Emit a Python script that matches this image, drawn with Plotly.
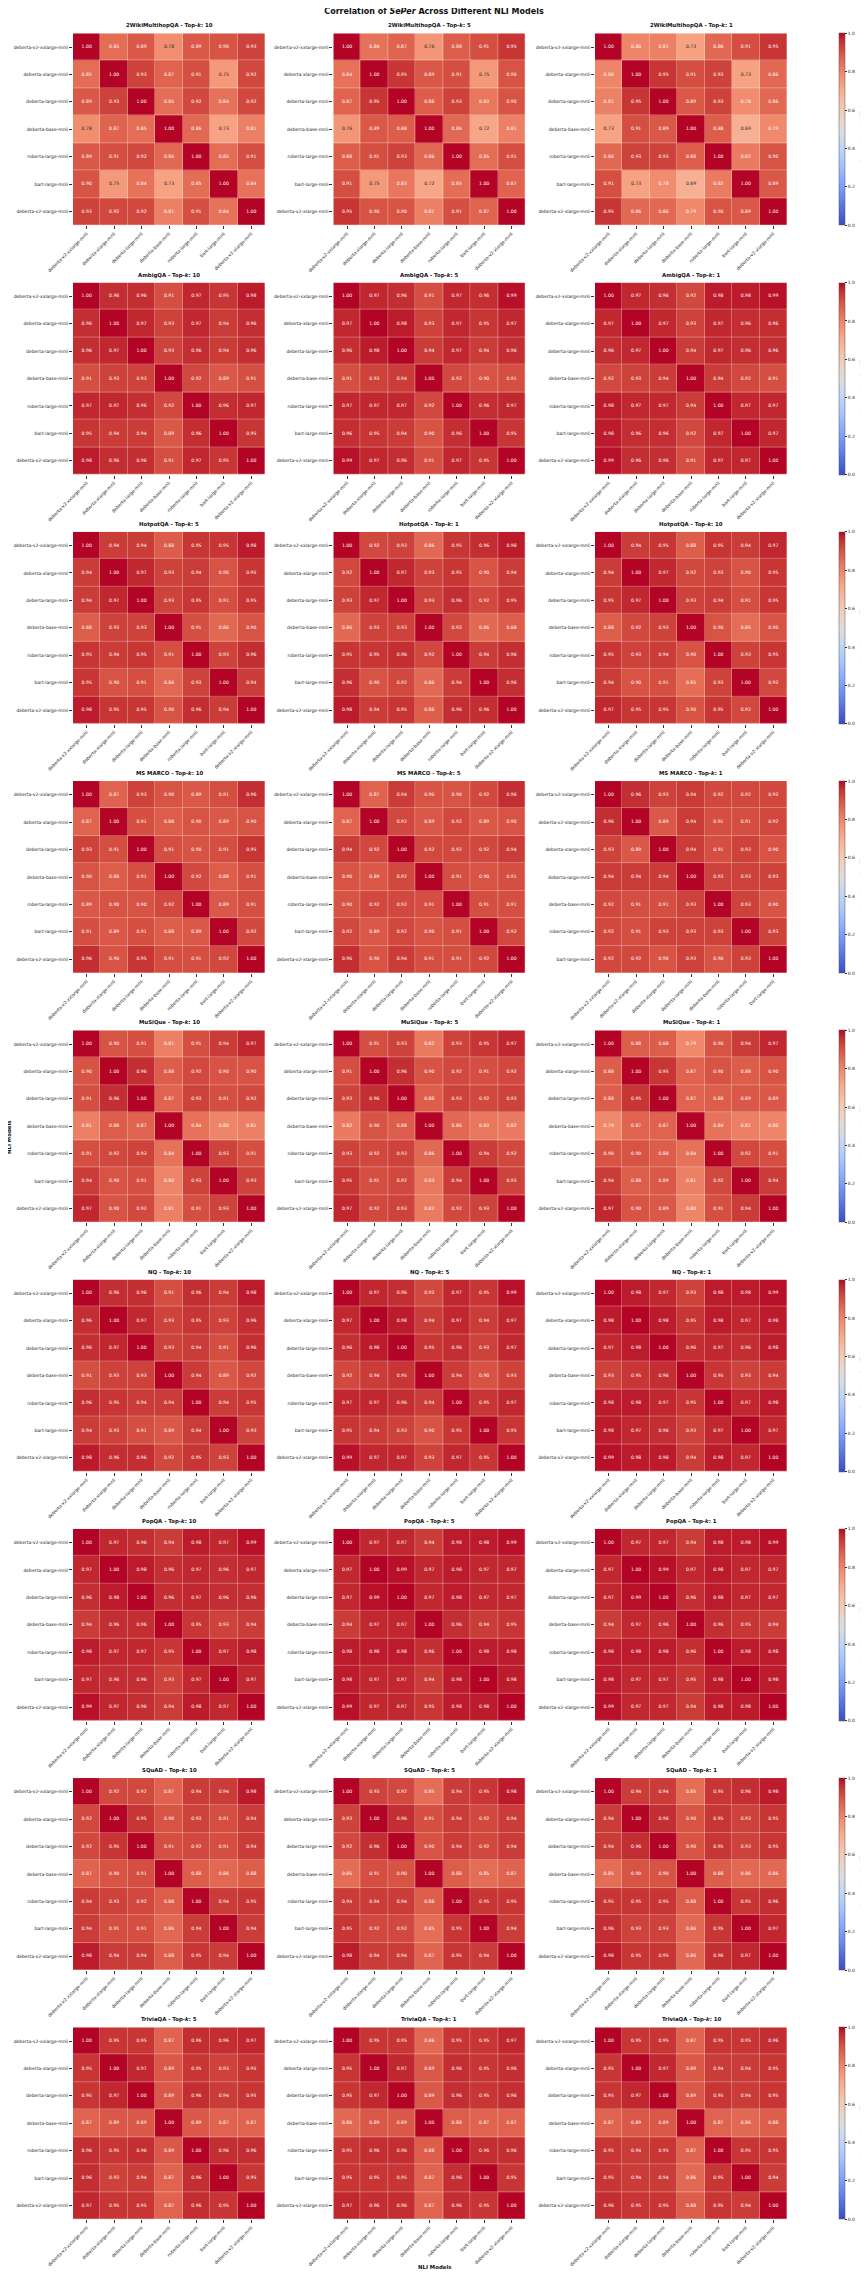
import plotly.graph_objects as go

W, H = 868, 2276

MODELS = ["deberta-v2-xxlarge-mnli", "deberta-xlarge-mnli", "deberta-large-mnli",
          "deberta-base-mnli", "roberta-large-mnli", "bart-large-mnli", "deberta-v2-xlarge-mnli"]
MODELS_MSMARCO_K1 = ["deberta-v2-xxlarge-mnli", "deberta-v2-xlarge-mnli", "deberta-xlarge-mnli",
                     "deberta-large-mnli", "deberta-base-mnli", "roberta-large-mnli", "bart-large-mnli"]

DATASETS = ["2WikiMultihopQA", "AmbigQA", "HotpotQA", "MS MARCO", "MuSiQue", "NQ", "PopQA", "SQuAD", "TriviaQA"]
TOPK = [[10, 5, 1], [10, 5, 1], [5, 1, 10], [10, 5, 1], [10, 5, 1], [10, 5, 1], [10, 5, 1], [10, 5, 1], [5, 1, 10]]

wiki_10 = [[1.00, 0.85, 0.89, 0.78, 0.89, 0.90, 0.93],
           [0.85, 1.00, 0.93, 0.87, 0.91, 0.75, 0.92],
           [0.89, 0.93, 1.00, 0.85, 0.92, 0.84, 0.92],
           [0.78, 0.87, 0.85, 1.00, 0.86, 0.73, 0.81],
           [0.89, 0.91, 0.92, 0.86, 1.00, 0.85, 0.91],
           [0.90, 0.75, 0.84, 0.73, 0.85, 1.00, 0.84],
           [0.93, 0.92, 0.92, 0.81, 0.91, 0.84, 1.00]]
wiki_5 = [[1.00, 0.84, 0.87, 0.76, 0.88, 0.91, 0.95],
          [0.84, 1.00, 0.95, 0.89, 0.91, 0.75, 0.90],
          [0.87, 0.95, 1.00, 0.88, 0.93, 0.83, 0.90],
          [0.76, 0.89, 0.88, 1.00, 0.86, 0.72, 0.81],
          [0.88, 0.91, 0.93, 0.86, 1.00, 0.85, 0.91],
          [0.91, 0.75, 0.83, 0.72, 0.85, 1.00, 0.87],
          [0.95, 0.90, 0.90, 0.81, 0.91, 0.87, 1.00]]
wiki_1 = [[1.00, 0.80, 0.81, 0.73, 0.86, 0.91, 0.95],
          [0.80, 1.00, 0.95, 0.91, 0.93, 0.73, 0.86],
          [0.81, 0.95, 1.00, 0.89, 0.93, 0.784, 0.86],
          [0.73, 0.91, 0.89, 1.00, 0.88, 0.69, 0.79],
          [0.86, 0.93, 0.93, 0.88, 1.00, 0.82, 0.90],
          [0.91, 0.73, 0.784, 0.69, 0.82, 1.00, 0.89],
          [0.95, 0.86, 0.86, 0.79, 0.90, 0.89, 1.00]]

ambig_10 = [[1.00, 0.96, 0.96, 0.91, 0.97, 0.95, 0.98],
            [0.96, 1.00, 0.97, 0.93, 0.97, 0.94, 0.96],
            [0.96, 0.97, 1.00, 0.93, 0.96, 0.94, 0.96],
            [0.91, 0.93, 0.93, 1.00, 0.92, 0.89, 0.91],
            [0.97, 0.97, 0.96, 0.92, 1.00, 0.96, 0.97],
            [0.95, 0.94, 0.94, 0.89, 0.96, 1.00, 0.95],
            [0.98, 0.96, 0.96, 0.91, 0.97, 0.95, 1.00]]
ambig_5 = [[1.00, 0.97, 0.96, 0.91, 0.97, 0.96, 0.99],
           [0.97, 1.00, 0.98, 0.93, 0.97, 0.95, 0.97],
           [0.96, 0.98, 1.00, 0.94, 0.97, 0.94, 0.96],
           [0.91, 0.93, 0.94, 1.00, 0.92, 0.90, 0.91],
           [0.97, 0.97, 0.97, 0.92, 1.00, 0.96, 0.97],
           [0.96, 0.95, 0.94, 0.90, 0.96, 1.00, 0.95],
           [0.99, 0.97, 0.96, 0.91, 0.97, 0.95, 1.00]]
ambig_1 = [[1.00, 0.97, 0.96, 0.92, 0.98, 0.98, 0.99],
           [0.97, 1.00, 0.97, 0.93, 0.97, 0.96, 0.96],
           [0.96, 0.97, 1.00, 0.94, 0.97, 0.96, 0.96],
           [0.92, 0.93, 0.94, 1.00, 0.94, 0.92, 0.91],
           [0.98, 0.97, 0.97, 0.94, 1.00, 0.97, 0.97],
           [0.98, 0.96, 0.96, 0.92, 0.97, 1.00, 0.97],
           [0.99, 0.96, 0.96, 0.91, 0.97, 0.97, 1.00]]

hotpot_5 = [[1.00, 0.94, 0.94, 0.88, 0.95, 0.95, 0.98],
            [0.94, 1.00, 0.97, 0.93, 0.94, 0.90, 0.95],
            [0.94, 0.97, 1.00, 0.93, 0.95, 0.91, 0.95],
            [0.88, 0.93, 0.93, 1.00, 0.91, 0.86, 0.90],
            [0.95, 0.94, 0.95, 0.91, 1.00, 0.93, 0.96],
            [0.95, 0.90, 0.91, 0.86, 0.93, 1.00, 0.94],
            [0.98, 0.95, 0.95, 0.90, 0.96, 0.94, 1.00]]
hotpot_1 = [[1.00, 0.92, 0.93, 0.86, 0.95, 0.96, 0.98],
            [0.92, 1.00, 0.97, 0.93, 0.95, 0.90, 0.94],
            [0.93, 0.97, 1.00, 0.93, 0.96, 0.92, 0.95],
            [0.86, 0.93, 0.93, 1.00, 0.92, 0.86, 0.88],
            [0.95, 0.95, 0.96, 0.92, 1.00, 0.94, 0.96],
            [0.96, 0.90, 0.92, 0.86, 0.94, 1.00, 0.96],
            [0.98, 0.94, 0.95, 0.88, 0.96, 0.96, 1.00]]
hotpot_10 = [[1.00, 0.94, 0.95, 0.88, 0.95, 0.94, 0.97],
             [0.94, 1.00, 0.97, 0.92, 0.93, 0.90, 0.95],
             [0.95, 0.97, 1.00, 0.93, 0.94, 0.91, 0.95],
             [0.88, 0.92, 0.93, 1.00, 0.90, 0.85, 0.90],
             [0.95, 0.93, 0.94, 0.90, 1.00, 0.93, 0.95],
             [0.94, 0.90, 0.91, 0.85, 0.93, 1.00, 0.92],
             [0.97, 0.95, 0.95, 0.90, 0.95, 0.92, 1.00]]

msmarco_10 = [[1.00, 0.87, 0.93, 0.90, 0.89, 0.91, 0.96],
              [0.87, 1.00, 0.91, 0.88, 0.90, 0.89, 0.90],
              [0.93, 0.91, 1.00, 0.91, 0.90, 0.91, 0.95],
              [0.90, 0.88, 0.91, 1.00, 0.92, 0.88, 0.91],
              [0.89, 0.90, 0.90, 0.92, 1.00, 0.89, 0.91],
              [0.91, 0.89, 0.91, 0.88, 0.89, 1.00, 0.92],
              [0.96, 0.90, 0.95, 0.91, 0.91, 0.92, 1.00]]
msmarco_5 = [[1.00, 0.87, 0.94, 0.90, 0.90, 0.92, 0.96],
             [0.87, 1.00, 0.92, 0.89, 0.92, 0.89, 0.90],
             [0.94, 0.92, 1.00, 0.92, 0.92, 0.92, 0.94],
             [0.90, 0.89, 0.92, 1.00, 0.91, 0.90, 0.91],
             [0.90, 0.92, 0.92, 0.91, 1.00, 0.91, 0.91],
             [0.92, 0.89, 0.92, 0.90, 0.91, 1.00, 0.92],
             [0.96, 0.90, 0.94, 0.91, 0.91, 0.92, 1.00]]
msmarco_1 = [[1.00, 0.96, 0.93, 0.94, 0.92, 0.92, 0.92],
             [0.96, 1.00, 0.89, 0.94, 0.91, 0.91, 0.92],
             [0.93, 0.89, 1.00, 0.94, 0.91, 0.93, 0.90],
             [0.94, 0.94, 0.94, 1.00, 0.93, 0.93, 0.93],
             [0.92, 0.91, 0.91, 0.93, 1.00, 0.93, 0.90],
             [0.92, 0.91, 0.93, 0.93, 0.93, 1.00, 0.93],
             [0.92, 0.92, 0.90, 0.93, 0.90, 0.93, 1.00]]

musique_10 = [[1.00, 0.90, 0.91, 0.81, 0.91, 0.94, 0.97],
              [0.90, 1.00, 0.96, 0.88, 0.92, 0.90, 0.90],
              [0.91, 0.96, 1.00, 0.87, 0.93, 0.91, 0.92],
              [0.81, 0.88, 0.87, 1.00, 0.84, 0.80, 0.81],
              [0.91, 0.92, 0.93, 0.84, 1.00, 0.93, 0.91],
              [0.94, 0.90, 0.91, 0.80, 0.93, 1.00, 0.93],
              [0.97, 0.90, 0.92, 0.81, 0.91, 0.93, 1.00]]
musique_5 = [[1.00, 0.91, 0.93, 0.82, 0.93, 0.95, 0.97],
             [0.91, 1.00, 0.96, 0.90, 0.92, 0.91, 0.92],
             [0.93, 0.96, 1.00, 0.88, 0.93, 0.92, 0.93],
             [0.82, 0.90, 0.88, 1.00, 0.86, 0.83, 0.82],
             [0.93, 0.92, 0.93, 0.86, 1.00, 0.94, 0.92],
             [0.95, 0.91, 0.92, 0.83, 0.94, 1.00, 0.93],
             [0.97, 0.92, 0.93, 0.82, 0.92, 0.93, 1.00]]
musique_1 = [[1.00, 0.88, 0.88, 0.79, 0.90, 0.94, 0.97],
             [0.88, 1.00, 0.95, 0.87, 0.90, 0.88, 0.90],
             [0.88, 0.95, 1.00, 0.87, 0.88, 0.89, 0.89],
             [0.79, 0.87, 0.87, 1.00, 0.84, 0.81, 0.80],
             [0.90, 0.90, 0.88, 0.84, 1.00, 0.92, 0.91],
             [0.94, 0.88, 0.89, 0.81, 0.92, 1.00, 0.94],
             [0.97, 0.90, 0.89, 0.80, 0.91, 0.94, 1.00]]

nq_10 = [[1.00, 0.96, 0.96, 0.91, 0.96, 0.94, 0.98],
         [0.96, 1.00, 0.97, 0.93, 0.95, 0.93, 0.96],
         [0.96, 0.97, 1.00, 0.93, 0.94, 0.91, 0.96],
         [0.91, 0.93, 0.93, 1.00, 0.94, 0.89, 0.92],
         [0.96, 0.95, 0.94, 0.94, 1.00, 0.94, 0.95],
         [0.94, 0.93, 0.91, 0.89, 0.94, 1.00, 0.93],
         [0.98, 0.96, 0.96, 0.92, 0.95, 0.93, 1.00]]
nq_5 = [[1.00, 0.97, 0.96, 0.92, 0.97, 0.95, 0.99],
        [0.97, 1.00, 0.98, 0.94, 0.97, 0.94, 0.97],
        [0.96, 0.98, 1.00, 0.95, 0.96, 0.93, 0.97],
        [0.92, 0.94, 0.95, 1.00, 0.94, 0.90, 0.93],
        [0.97, 0.97, 0.96, 0.94, 1.00, 0.95, 0.97],
        [0.95, 0.94, 0.93, 0.90, 0.95, 1.00, 0.95],
        [0.99, 0.97, 0.97, 0.93, 0.97, 0.95, 1.00]]
nq_1 = [[1.00, 0.98, 0.97, 0.93, 0.98, 0.98, 0.99],
        [0.98, 1.00, 0.98, 0.95, 0.98, 0.97, 0.98],
        [0.97, 0.98, 1.00, 0.96, 0.97, 0.96, 0.98],
        [0.93, 0.95, 0.96, 1.00, 0.95, 0.93, 0.94],
        [0.98, 0.98, 0.97, 0.95, 1.00, 0.97, 0.98],
        [0.98, 0.97, 0.96, 0.93, 0.97, 1.00, 0.97],
        [0.99, 0.98, 0.98, 0.94, 0.98, 0.97, 1.00]]

popqa_10 = [[1.00, 0.97, 0.96, 0.94, 0.98, 0.97, 0.99],
            [0.97, 1.00, 0.98, 0.96, 0.97, 0.96, 0.97],
            [0.96, 0.98, 1.00, 0.96, 0.97, 0.96, 0.96],
            [0.94, 0.96, 0.96, 1.00, 0.95, 0.93, 0.94],
            [0.98, 0.97, 0.97, 0.95, 1.00, 0.97, 0.98],
            [0.97, 0.96, 0.96, 0.93, 0.97, 1.00, 0.97],
            [0.99, 0.97, 0.96, 0.94, 0.98, 0.97, 1.00]]
popqa_5 = [[1.00, 0.97, 0.97, 0.94, 0.98, 0.98, 0.99],
           [0.97, 1.00, 0.99, 0.97, 0.98, 0.97, 0.97],
           [0.97, 0.99, 1.00, 0.97, 0.98, 0.97, 0.97],
           [0.94, 0.97, 0.97, 1.00, 0.96, 0.94, 0.95],
           [0.98, 0.98, 0.98, 0.96, 1.00, 0.98, 0.98],
           [0.98, 0.97, 0.97, 0.94, 0.98, 1.00, 0.98],
           [0.99, 0.97, 0.97, 0.95, 0.98, 0.98, 1.00]]
popqa_1 = [[1.00, 0.97, 0.97, 0.94, 0.98, 0.98, 0.99],
           [0.97, 1.00, 0.99, 0.97, 0.98, 0.97, 0.97],
           [0.97, 0.99, 1.00, 0.96, 0.98, 0.97, 0.97],
           [0.94, 0.97, 0.96, 1.00, 0.96, 0.95, 0.94],
           [0.98, 0.98, 0.98, 0.96, 1.00, 0.98, 0.98],
           [0.98, 0.97, 0.97, 0.95, 0.98, 1.00, 0.98],
           [0.99, 0.97, 0.97, 0.94, 0.98, 0.98, 1.00]]

squad_10 = [[1.00, 0.92, 0.92, 0.87, 0.94, 0.94, 0.98],
            [0.92, 1.00, 0.95, 0.90, 0.93, 0.91, 0.94],
            [0.92, 0.95, 1.00, 0.91, 0.92, 0.91, 0.94],
            [0.87, 0.90, 0.91, 1.00, 0.88, 0.86, 0.88],
            [0.94, 0.93, 0.92, 0.88, 1.00, 0.94, 0.95],
            [0.94, 0.91, 0.91, 0.86, 0.94, 1.00, 0.94],
            [0.98, 0.94, 0.94, 0.88, 0.95, 0.94, 1.00]]
squad_5 = [[1.00, 0.93, 0.92, 0.85, 0.94, 0.95, 0.98],
           [0.93, 1.00, 0.96, 0.91, 0.94, 0.92, 0.94],
           [0.92, 0.96, 1.00, 0.90, 0.94, 0.92, 0.94],
           [0.85, 0.91, 0.90, 1.00, 0.88, 0.85, 0.87],
           [0.94, 0.94, 0.94, 0.88, 1.00, 0.95, 0.95],
           [0.95, 0.92, 0.92, 0.85, 0.95, 1.00, 0.94],
           [0.98, 0.94, 0.94, 0.87, 0.95, 0.94, 1.00]]
squad_1 = [[1.00, 0.94, 0.94, 0.85, 0.95, 0.96, 0.98],
           [0.94, 1.00, 0.96, 0.90, 0.95, 0.93, 0.95],
           [0.94, 0.96, 1.00, 0.90, 0.95, 0.93, 0.95],
           [0.85, 0.90, 0.90, 1.00, 0.88, 0.86, 0.86],
           [0.95, 0.95, 0.95, 0.88, 1.00, 0.95, 0.96],
           [0.96, 0.93, 0.93, 0.86, 0.95, 1.00, 0.97],
           [0.98, 0.95, 0.95, 0.86, 0.96, 0.97, 1.00]]

trivia_5 = [[1.00, 0.95, 0.95, 0.87, 0.96, 0.96, 0.97],
            [0.95, 1.00, 0.97, 0.89, 0.95, 0.93, 0.95],
            [0.95, 0.97, 1.00, 0.89, 0.96, 0.94, 0.95],
            [0.87, 0.89, 0.89, 1.00, 0.89, 0.87, 0.87],
            [0.96, 0.95, 0.96, 0.89, 1.00, 0.96, 0.96],
            [0.96, 0.93, 0.94, 0.87, 0.96, 1.00, 0.95],
            [0.97, 0.95, 0.95, 0.87, 0.96, 0.95, 1.00]]
trivia_1 = [[1.00, 0.95, 0.95, 0.86, 0.95, 0.95, 0.97],
            [0.95, 1.00, 0.97, 0.89, 0.96, 0.95, 0.96],
            [0.95, 0.97, 1.00, 0.89, 0.96, 0.95, 0.96],
            [0.86, 0.89, 0.89, 1.00, 0.88, 0.87, 0.87],
            [0.95, 0.96, 0.96, 0.88, 1.00, 0.96, 0.96],
            [0.95, 0.95, 0.95, 0.87, 0.96, 1.00, 0.95],
            [0.97, 0.96, 0.96, 0.87, 0.96, 0.95, 1.00]]
trivia_10 = [[1.00, 0.95, 0.95, 0.87, 0.95, 0.95, 0.96],
             [0.95, 1.00, 0.97, 0.89, 0.94, 0.94, 0.95],
             [0.95, 0.97, 1.00, 0.89, 0.95, 0.94, 0.95],
             [0.87, 0.89, 0.89, 1.00, 0.87, 0.86, 0.88],
             [0.95, 0.94, 0.95, 0.87, 1.00, 0.95, 0.95],
             [0.95, 0.94, 0.94, 0.86, 0.95, 1.00, 0.94],
             [0.96, 0.95, 0.95, 0.88, 0.95, 0.94, 1.00]]

MATRICES = [[wiki_10, wiki_5, wiki_1],
            [ambig_10, ambig_5, ambig_1],
            [hotpot_5, hotpot_1, hotpot_10],
            [msmarco_10, msmarco_5, msmarco_1],
            [musique_10, musique_5, musique_1],
            [nq_10, nq_5, nq_1],
            [popqa_10, popqa_5, popqa_1],
            [squad_10, squad_5, squad_1],
            [trivia_5, trivia_1, trivia_10]]
LABELS = [[MODELS, MODELS, MODELS] for _ in DATASETS]
LABELS[3][2] = MODELS_MSMARCO_K1

# matplotlib "coolwarm" colormap (Moreland table)
COOLWARM_RGB = [(59, 76, 192), (68, 90, 204), (77, 104, 215), (87, 117, 225), (98, 130, 234),
                (108, 142, 241), (119, 154, 247), (130, 165, 251), (141, 176, 254), (152, 185, 255),
                (163, 194, 255), (174, 201, 253), (184, 208, 249), (194, 213, 244), (204, 217, 238),
                (213, 219, 230), (221, 221, 221), (229, 216, 209), (236, 211, 197), (241, 204, 185),
                (245, 196, 173), (247, 187, 160), (247, 177, 148), (247, 166, 135), (244, 154, 123),
                (241, 141, 111), (236, 127, 99), (229, 112, 88), (222, 96, 77), (213, 80, 66),
                (203, 62, 56), (192, 40, 47), (180, 4, 38)]
n = len(COOLWARM_RGB) - 1
COLORSCALE = [[i / n, "rgb(%d,%d,%d)" % c] for i, c in enumerate(COOLWARM_RGB)]

FONT = "DejaVu Sans"
DARK = "#262626"

# The page body adds an 8px offset; positions below are target page pixels.
OFF = 8


def px(x):
    return (x - OFF) / W


def py(y):
    return 1 - (y - OFF) / H


COL_X0 = [73, 333.3, 595]
ROW_Y0_FIRST = 33.3
ROW_PITCH = 249.25
SIZE = 192
CB_X0 = 839

fig = go.Figure()
annotations = []
layout_axes = {}

for r, ds in enumerate(DATASETS):
    y0 = ROW_Y0_FIRST + r * ROW_PITCH
    for c in range(3):
        idx = r * 3 + c + 1
        sfx = "" if idx == 1 else str(idx)
        x0 = COL_X0[c]
        z = MATRICES[r][c]
        labs = LABELS[r][c]
        show = (c == 2)
        hm = go.Heatmap(
            z=z, x=labs, y=labs, zmin=0, zmax=1, colorscale=COLORSCALE,
            xgap=0.3, ygap=0.3, hoverinfo="skip", showscale=show,
            xaxis="x" + sfx, yaxis="y" + sfx,
        )
        if show:
            hm.colorbar = dict(
                x=px(CB_X0), xanchor="left", xpad=0, ypad=0,
                y=py(y0 + SIZE / 2), yanchor="middle",
                len=SIZE / H, lenmode="fraction",
                thickness=6, thicknessmode="pixels",
                tickvals=[0, 0.2, 0.4, 0.6, 0.8, 1.0], tickformat=".1f",
                ticks="outside", ticklen=2, tickwidth=0.5, tickcolor="#333",
                tickfont=dict(family=FONT, size=4.5, color="#222"),
                outlinewidth=0.5, outlinecolor="#555",
            )
            annotations.append(dict(
                text="<b>Correlation Coefficient</b>", x=px(862), y=py(y0 + SIZE / 2),
                xref="paper", yref="paper", xanchor="center", yanchor="middle",
                textangle=-90, showarrow=False, font=dict(family=FONT, size=5.3, color="#111")))
        fig.add_trace(hm)

        xs, ys, txt, cols = [], [], [], []
        for i in range(7):
            for j in range(7):
                v = z[i][j]
                xs.append(labs[j])
                ys.append(labs[i])
                txt.append("%.2f" % v)
                cols.append(DARK if v < 0.782 else "white")
        fig.add_trace(go.Scatter(
            x=xs, y=ys, text=txt, mode="text", hoverinfo="skip", showlegend=False,
            textfont=dict(family=FONT, size=4.6, color=cols),
            xaxis="x" + sfx, yaxis="y" + sfx,
        ))

        common = dict(type="category", showgrid=False, zeroline=False, showline=False,
                      ticks="outside", ticklen=3, tickwidth=0.5, tickcolor="#333",
                      tickfont=dict(family=FONT, size=4.5, color="#222"), automargin=False)
        layout_axes["xaxis" + sfx] = dict(
            common, domain=[px(x0), px(x0 + SIZE)], anchor="y" + sfx, tickangle=-45,
            range=[-0.5, 6.5])
        layout_axes["yaxis" + sfx] = dict(
            common, domain=[py(y0 + SIZE), py(y0)], anchor="x" + sfx,
            range=[6.5, -0.5])

        annotations.append(dict(
            text="<b>%s - Top-<i>k</i>: %d</b>" % (ds, TOPK[r][c]),
            x=px(x0 + SIZE / 2), y=py(y0 - 2), xref="paper", yref="paper",
            xanchor="center", yanchor="bottom", showarrow=False,
            font=dict(family=FONT, size=5.4, color="#111")))

annotations.append(dict(text="<b>NLI Models</b>", x=px(434), y=py(2267), xref="paper", yref="paper",
                        xanchor="center", yanchor="middle", showarrow=False,
                        font=dict(family=FONT, size=5.4, color="#111")))
annotations.append(dict(text="<b>NLI Models</b>", x=px(9), y=py(1138), xref="paper", yref="paper",
                        xanchor="center", yanchor="middle", showarrow=False, textangle=-90,
                        font=dict(family=FONT, size=5.4, color="#111")))

fig.update_layout(
    width=W, height=H, autosize=False,
    margin=dict(l=0, r=0, t=0, b=0, pad=0, autoexpand=False),
    paper_bgcolor="white", plot_bgcolor="white",
    title=dict(text="<b>Correlation of <i>SePer</i> Across Different NLI Models</b>",
               x=px(434), xanchor="center", y=py(11), yanchor="middle",
               font=dict(family=FONT, size=8, color="#111")),
    annotations=annotations,
    showlegend=False,
    **layout_axes,
)

fig.write_html("out.html")
